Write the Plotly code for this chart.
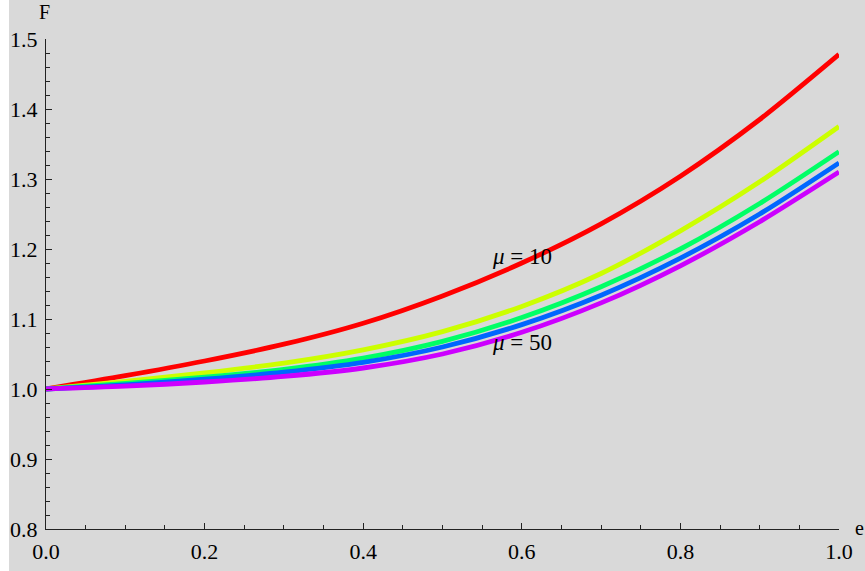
import plotly.graph_objects as go

# e values and F(e) for each mu
e_vals = [0.0, 0.1, 0.2, 0.3, 0.4, 0.5, 0.6, 0.7, 0.8, 0.9, 1.0]
f_mu10 = [1.0, 1.019, 1.040, 1.064, 1.094, 1.133, 1.180, 1.236, 1.304, 1.385, 1.478]
f_mu20 = [1.0, 1.011, 1.023, 1.037, 1.056, 1.082, 1.118, 1.165, 1.226, 1.296, 1.375]
f_mu30 = [1.0, 1.008, 1.017, 1.028, 1.044, 1.068, 1.102, 1.146, 1.200, 1.265, 1.339]
f_mu40 = [1.0, 1.006, 1.014, 1.024, 1.038, 1.060, 1.092, 1.134, 1.187, 1.250, 1.323]
f_mu50 = [1.0, 1.004, 1.010, 1.018, 1.030, 1.050, 1.081, 1.123, 1.176, 1.239, 1.310]

series = [f_mu10, f_mu20, f_mu30, f_mu40, f_mu50]
colors = ["#ff0000", "#ccff00", "#00ff66", "#0066ff", "#cc00ff"]

x_ticks = [0.0, 0.2, 0.4, 0.6, 0.8, 1.0]
y_ticks = [0.8, 0.9, 1.0, 1.1, 1.2, 1.3, 1.4, 1.5]

serif = "Liberation Serif"
bg = "#d9d9d9"
axis_col = "#222222"
txt_col = "#000000"

fig = go.Figure()
for ys, c in zip(series, colors):
    fig.add_trace(go.Scatter(x=e_vals, y=ys, mode="lines",
                             line=dict(color=c, width=4.8, shape="spline", smoothing=0.8),
                             hoverinfo="skip", showlegend=False))

fig.update_layout(
    width=865, height=571,
    margin=dict(l=46, r=26, t=39, b=42),
    paper_bgcolor=bg, plot_bgcolor=bg,
    font=dict(family=serif, size=22, color=txt_col),
    xaxis=dict(range=[0, 1], showgrid=False, zeroline=False, automargin=False,
               showline=True, linecolor=axis_col, linewidth=1,
               tickvals=x_ticks, ticktext=[f"{v:.1f}" for v in x_ticks],
               ticks="inside", ticklen=6, tickcolor=axis_col, tickwidth=1,
               ticklabelstandoff=3,
               tickfont=dict(family=serif, size=22, color=txt_col),
               minor=dict(dtick=0.05, tick0=0, ticks="inside", ticklen=4,
                          tickcolor=axis_col, tickwidth=1, showgrid=False)),
    yaxis=dict(range=[0.8, 1.5], showgrid=False, zeroline=False, automargin=False,
               showline=True, linecolor=axis_col, linewidth=1,
               tickvals=y_ticks, ticktext=[f"{v:.1f}" for v in y_ticks],
               ticks="inside", ticklen=6, tickcolor=axis_col, tickwidth=1,
               ticklabelstandoff=3,
               tickfont=dict(family=serif, size=22, color=txt_col),
               minor=dict(dtick=0.02, tick0=0.8, ticks="inside", ticklen=4,
                          tickcolor=axis_col, tickwidth=1, showgrid=False)),
    shapes=[dict(type="rect", xref="paper", yref="paper",
                 x0=-46 / 793, x1=-37 / 793, y0=-42 / 490, y1=1 + 39 / 490,
                 fillcolor="white", line=dict(width=0), layer="below")],
    annotations=[
        dict(text="F", xref="paper", yref="paper", x=-2 / 793, y=1 + 27 / 490,
             xanchor="center", yanchor="middle", showarrow=False,
             font=dict(family=serif, size=20, color=txt_col)),
        dict(text="e", xref="paper", yref="paper", x=1 + 20 / 793, y=1 / 490,
             xanchor="center", yanchor="middle", showarrow=False,
             font=dict(family=serif, size=20, color=txt_col)),
        dict(text="<i>μ</i> = 10", xref="x", yref="y", x=0.6, y=1.19,
             showarrow=False, font=dict(family=serif, size=23, color=txt_col)),
        dict(text="<i>μ</i> = 50", xref="x", yref="y", x=0.6, y=1.066,
             showarrow=False, font=dict(family=serif, size=23, color=txt_col)),
    ],
)

fig.write_html("out.html")
